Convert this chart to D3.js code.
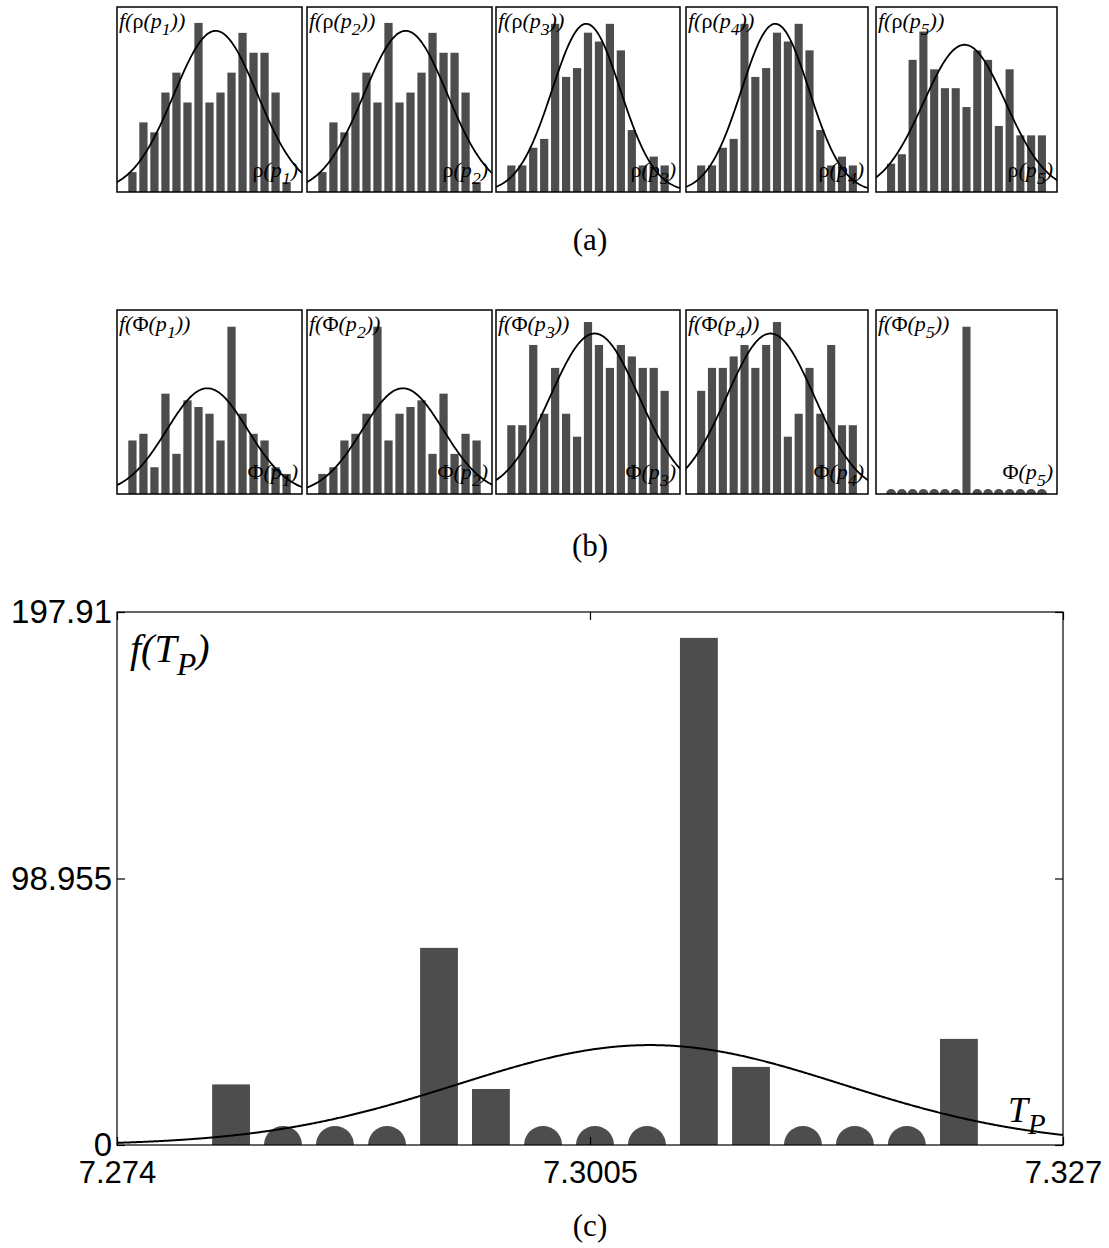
<!DOCTYPE html>
<html>
<head>
<meta charset="utf-8">
<script src="https://cdn.jsdelivr.net/npm/d3@7"></script>
<style>
  body { margin: 0; background: #fff; }
  svg { display: block; }
</style>
</head>
<body>
<div id="chart"></div>
<script>

// ---- small histograms: 15 bins, bin index 1..15 ----
var binIdx = [1, 2, 3, 4, 5, 6, 7, 8, 9, 10, 11, 12, 13, 14, 15];

var rhoCounts = [
    [2, 7, 6, 10, 12, 9, 17, 9, 10, 12, 16, 14, 14, 10, 1],
    [2, 7, 6, 10, 12, 9, 17, 9, 10, 12, 16, 14, 14, 10, 1],
    [3, 3, 5, 6, 19, 13, 14, 18, 17, 19, 16, 7, 3, 4, 3],
    [3, 3, 5, 6, 19, 13, 14, 18, 17, 19, 16, 7, 3, 4, 3],
    [3, 4, 14, 17, 13, 11, 11, 9, 15, 14, 7, 13, 6, 6, 6]
];
var rhoYMax = [18.6, 18.6, 20.9, 20.9, 19.6];
// normal fit: mean, sd (bin units), peak height
var rhoMean = [8.56, 8.56, 7.84, 7.84, 7.82];
var rhoSd = [3.79, 3.79, 3.12, 3.12, 3.82];
var rhoPeak = [16.2, 16.2, 19.0, 19.0, 15.6];

var phiCounts = [
    [8, 9, 4, 15, 6, 14, 13, 12, 8, 25, 12, 9, 8, 4, 3],
    [3, 4, 8, 9, 12, 25, 8, 12, 13, 14, 6, 15, 6, 9, 8],
    [6, 6, 13, 7, 11, 7, 5, 15, 13, 11, 13, 12, 11, 11, 9],
    [9, 11, 11, 12, 13, 11, 13, 15, 5, 7, 11, 7, 13, 6, 6],
    [0, 0, 0, 0, 0, 0, 0, 150, 0, 0, 0, 0, 0, 0, 0]
];
var phiYMax = [27.5, 27.5, 16.05, 16.05, 165];
var phiMean = [7.8, 8.3, 8.6, 7.4, null];
var phiSd = [3.68, 3.68, 4.06, 4.06, null];
var phiPeak = [15.8, 15.8, 14.0, 14.0, null];

var subs = ["1", "2", "3", "4", "5"];

// ---- big histogram of T_P ----
var tpCenters = [7.28039, 7.28330, 7.28621, 7.28913, 7.29204, 7.29495, 7.29787, 7.30078,
                 7.30369, 7.30660, 7.30952, 7.31243, 7.31534, 7.31825, 7.32117];
var tpValues = [22.5, 0, 0, 0, 73.2, 20.8, 0, 0, 0, 188.3, 29, 0, 0, 0, 39.4];
var tpTicks = [7.274, 7.3005, 7.327];
var tpTickLabels = ["7.274", "7.3005", "7.327"];
var fTicks = [0, 98.955, 197.91];
var fTickLabels = ["0", "98.955", "197.91"];
var tpMean = 7.30386, tpSd = 0.01079, tpPeak = 37.1;

var barColor = "#4d4d4d";
var serif = "'Liberation Serif', 'Times New Roman', serif";
var sans = "'Liberation Sans', Arial, sans-serif";

var svg = d3.select("#chart").append("svg")
    .attr("width", 1109)
    .attr("height", 1248);

var defs = svg.append("defs");
var clipCount = 0;

// text made of pieces: italic / upright / subscript
function richText(g, x, y, parts, size, anchor) {
    var t = g.append("text")
        .attr("x", x)
        .attr("y", y)
        .attr("font-family", serif)
        .attr("font-size", size)
        .attr("text-anchor", anchor || "start");
    var shift = 0;
    parts.forEach(function(p) {
        var s = t.append("tspan").text(p.t)
            .attr("font-style", p.up ? "normal" : "italic");
        var want = p.sub ? size * 0.32 : 0;
        if (want !== shift) s.attr("dy", want - shift);
        shift = want;
        if (p.sub) s.attr("font-size", size * 0.8);
    });
    return t;
}

function drawPanel(cfg) {
    var x = d3.scaleLinear().domain(cfg.xDomain).range([cfg.left, cfg.left + cfg.width]);
    var y = d3.scaleLinear().domain([0, cfg.yMax]).range([cfg.top + cfg.height, cfg.top]);

    var id = "clip" + (clipCount++);
    defs.append("clipPath").attr("id", id).append("rect")
        .attr("x", cfg.left).attr("y", cfg.top)
        .attr("width", cfg.width).attr("height", cfg.height);

    var g = svg.append("g");
    var plot = g.append("g").attr("clip-path", "url(#" + id + ")");

    var bw = x(cfg.xDomain[0] + cfg.barWidth) - x(cfg.xDomain[0]);
    var bins = cfg.centers.map(function(c, i) { return {c: c, v: cfg.values[i]}; });

    plot.selectAll("rect.bar")
        .data(bins.filter(function(d) { return d.v > 0; }))
        .enter().append("rect")
        .attr("class", "bar")
        .attr("x", function(d) { return x(d.c) - bw / 2; })
        .attr("y", function(d) { return y(d.v); })
        .attr("width", bw)
        .attr("height", function(d) { return y(0) - y(d.v); })
        .attr("fill", barColor);

    plot.selectAll("circle.zero")
        .data(bins.filter(function(d) { return d.v === 0; }))
        .enter().append("circle")
        .attr("class", "zero")
        .attr("cx", function(d) { return x(d.c); })
        .attr("cy", y(0))
        .attr("r", cfg.markerR)
        .attr("fill", barColor);

    if (cfg.mean != null) {
        var pts = d3.range(cfg.left, cfg.left + cfg.width + 1, 1).map(function(px) {
            var t = x.invert(px);
            var z = (t - cfg.mean) / cfg.sd;
            return [px, y(cfg.peak * Math.exp(-0.5 * z * z))];
        });
        plot.append("path")
            .attr("d", d3.line()(pts))
            .attr("fill", "none")
            .attr("stroke", "#000")
            .attr("stroke-width", cfg.lineWidth);
    }

    g.append("rect")
        .attr("x", cfg.left).attr("y", cfg.top)
        .attr("width", cfg.width).attr("height", cfg.height)
        .attr("fill", "none")
        .attr("stroke", "#000")
        .attr("stroke-width", cfg.boxWidth);

    return {g: g, x: x, y: y};
}

// ---- rows (a) and (b) ----
var lefts = [117, 307, 496, 686, 876];
var widths = [185, 185, 184, 182, 181];

function smallRow(top, height, counts, yMax, mean, sd, peak, sym) {
    counts.forEach(function(vals, i) {
        var p = drawPanel({
            left: lefts[i], top: top, width: widths[i], height: height,
            xDomain: [-0.4, 16.4], yMax: yMax[i],
            centers: binIdx, values: vals, barWidth: 0.75, markerR: 5,
            mean: mean[i], sd: sd[i], peak: peak[i],
            lineWidth: 1.8, boxWidth: 1.5
        });
        richText(p.g, lefts[i] + 2, top + 21, [
            {t: "f("}, {t: sym, up: true}, {t: "(p"}, {t: subs[i], sub: true}, {t: "))"}
        ], 22, "start");
        richText(p.g, lefts[i] + widths[i] - 4, top + height - 15, [
            {t: sym, up: true}, {t: "(p"}, {t: subs[i], sub: true}, {t: ")"}
        ], 22, "end");
    });
}

smallRow(7, 185, rhoCounts, rhoYMax, rhoMean, rhoSd, rhoPeak, "\u03c1");
smallRow(310, 184, phiCounts, phiYMax, phiMean, phiSd, phiPeak, "\u03a6");

// ---- panel (c) ----
var main = drawPanel({
    left: 117, top: 612, width: 946, height: 533,
    xDomain: [7.274, 7.327], yMax: 197.91,
    centers: tpCenters, values: tpValues, barWidth: 0.00212, markerR: 19,
    mean: tpMean, sd: tpSd, peak: tpPeak,
    lineWidth: 2, boxWidth: 1.2
});

var xAxis = d3.axisBottom(main.x).tickValues(tpTicks)
    .tickFormat(function(d, i) { return tpTickLabels[i]; })
    .tickSize(-8).tickPadding(16);
var xAxisTop = d3.axisTop(main.x).tickValues(tpTicks).tickFormat("").tickSize(-8);
var yAxis = d3.axisLeft(main.y).tickValues(fTicks)
    .tickFormat(function(d, i) { return fTickLabels[i]; })
    .tickSize(-8).tickPadding(5);
var yAxisRight = d3.axisRight(main.y).tickValues(fTicks).tickFormat("").tickSize(-8);

function styleAxis(sel, size) {
    sel.select(".domain").remove();
    sel.selectAll("line").attr("stroke", "#000").attr("stroke-width", 1.2);
    sel.selectAll("text").attr("font-family", sans).attr("font-size", size).attr("fill", "#000");
}

main.g.append("g").attr("transform", "translate(0,1145)").call(xAxis).call(styleAxis, 31);
main.g.append("g").attr("transform", "translate(0,612)").call(xAxisTop).call(styleAxis, 31);
main.g.append("g").attr("transform", "translate(117,0)").call(yAxis).call(styleAxis, 33);
main.g.append("g").attr("transform", "translate(1063,0)").call(yAxisRight).call(styleAxis, 33);

richText(main.g, 130, 662, [{t: "f(T"}, {t: "P", sub: true}, {t: ")"}], 40, "start");
richText(main.g, 1008, 1122, [{t: "T"}, {t: "P", sub: true}], 36, "start");

// ---- captions ----
[["(a)", 250], ["(b)", 556], ["(c)", 1236]].forEach(function(c) {
    svg.append("text")
        .attr("x", 590).attr("y", c[1])
        .attr("text-anchor", "middle")
        .attr("font-family", serif)
        .attr("font-size", 31)
        .text(c[0]);
});

</script>
</body>
</html>
